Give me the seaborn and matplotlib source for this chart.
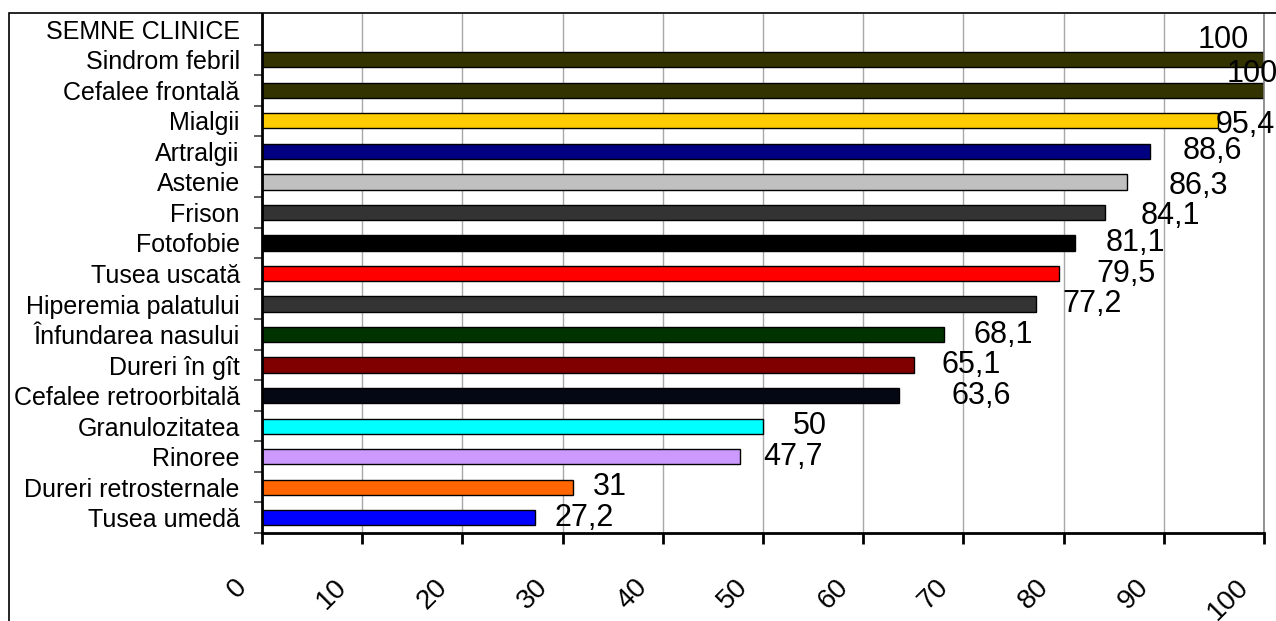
import matplotlib
matplotlib.use("Agg")
import matplotlib.pyplot as plt
import matplotlib.transforms as mtransforms
from matplotlib.patches import Rectangle
from matplotlib.ticker import FixedLocator
import seaborn as sns
import pandas as pd

# ---- data ----
header = "SEMNE CLINICE"
categories = ["Sindrom febril", "Cefalee frontală", "Mialgii", "Artralgii", "Astenie",
              "Frison", "Fotofobie", "Tusea uscată", "Hiperemia palatului",
              "Înfundarea nasului", "Dureri în gît", "Cefalee retroorbitală",
              "Granulozitatea", "Rinoree", "Dureri retrosternale", "Tusea umedă"]
values = [100, 100, 95.4, 88.6, 86.3, 84.1, 81.1, 79.5, 77.2, 68.1, 65.1, 63.6,
          50, 47.7, 31, 27.2]
colors = ["#333300", "#333300", "#FFCC00", "#000080", "#C0C0C0", "#333333",
          "#000000", "#FF0000", "#333333", "#003300", "#800000", "#040814",
          "#00FFFF", "#CC99FF", "#FF6600", "#0000FF"]
xticks = [0, 10, 20, 30, 40, 50, 60, 70, 80, 90, 100]

# label nudges (data units along x, category-slot fraction along y)
label_dx = [-6.6, -3.7, -0.2, 3.3, 4.2, 3.6, 3.1, 3.8, 2.7, 2.9, 2.7, 5.2, 3.0, 2.3, 2.0, 2.0]
label_dy = [-0.65, -0.52, 0.13, 0.0, 0.13, 0.13, 0.0, 0.0, 0.0, 0.0, 0.0, 0.0, 0.0, 0.0, 0.0, 0.0]

sns.set_style("white")
plt.rcParams["font.family"] = ["Liberation Sans", "DejaVu Sans"]
plt.rcParams["text.color"] = "black"
plt.rcParams["xtick.color"] = "black"
plt.rcParams["ytick.color"] = "black"

W, H = 1276, 621
fig = plt.figure(figsize=(W / 100, H / 100), dpi=100)
ax = fig.add_axes([262 / W, 1 - 533 / H, (1264 - 262) / W, (533 - 14) / H])

df = pd.DataFrame({"cat": categories, "val": values})
order = [header] + categories
sns.barplot(data=df, x="val", y="cat", hue="cat", order=order,
            palette=dict(zip(categories, colors)), orient="h", width=0.5,
            edgecolor="black", linewidth=1, legend=False, ax=ax, saturation=1)

ax.set_xlim(0, 100)
ax.set_ylim(len(order) - 0.5, -0.5)
ax.set_xlabel("")
ax.set_ylabel("")

# grid
ax.set_axisbelow(True)
ax.xaxis.grid(True, color="#a8a8a8", linewidth=1)
ax.yaxis.grid(False)

# spines
for s in ["left", "bottom"]:
    ax.spines[s].set_color("black")
    ax.spines[s].set_linewidth(2)
ax.spines["right"].set_color("#808080")
ax.spines["right"].set_linewidth(1.2)
ax.spines["top"].set_visible(False)

# y ticks: labels at centres, tick marks at slot boundaries
ax.set_yticks(range(len(order)))
ax.set_yticklabels(order)
ax.tick_params(axis="y", which="major", length=0, pad=16, labelsize=18,
               labelcolor="black")
ax.yaxis.set_minor_locator(FixedLocator([i + 0.5 for i in range(0, len(order))]))
ax.tick_params(axis="y", which="minor", direction="out", length=6, width=1.2,
               color="#404040", left=True)

# x ticks
ax.set_xticks(xticks)
ax.tick_params(axis="x", which="major", direction="out", length=8, width=2,
               color="black", pad=28, bottom=True, labelsize=20,
               labelcolor="black", labelrotation=45)
ax.set_xticklabels([str(t) for t in xticks])
offset = mtransforms.ScaledTranslation(-19 / 100, 0, fig.dpi_scale_trans)
for lab in ax.get_xticklabels():
    lab.set_fontsize(20)
    lab.set_horizontalalignment("right")
    lab.set_verticalalignment("center")
    lab.set_rotation_mode("anchor")
    lab.set_transform(lab.get_transform() + offset)

# value labels
for i, (v, dx, dy) in enumerate(zip(values, label_dx, label_dy)):
    txt = f"{v:g}".replace(".", ",")
    ax.text(v + dx, i + 1 + dy, txt, fontsize=22, ha="left", va="center",
            clip_on=False, color="black")

# outer frame
fig.add_artist(Rectangle((9 / W, -0.1), 1.2, 1.1 - 13 / H,
                         transform=fig.transFigure, fill=False,
                         edgecolor="black", linewidth=1.2))

fig.savefig("out.png", dpi=100)
